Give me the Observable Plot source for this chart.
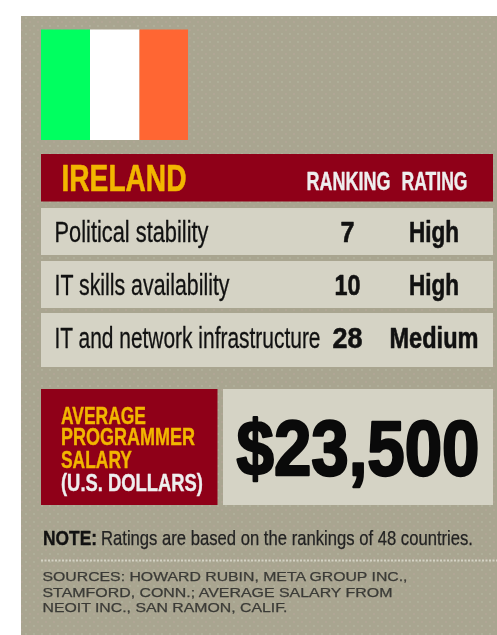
<!DOCTYPE html>
<html><head><meta charset="utf-8">
<script src="https://cdn.jsdelivr.net/npm/d3@7"></script>
<script src="https://cdn.jsdelivr.net/npm/@observablehq/plot@0.6"></script>
<style>
html,body{margin:0;padding:0;background:#fff;overflow:hidden}
svg{display:block;filter:blur(.4px)}
</style></head><body><div id="c"></div>
<script>
const country = "IRELAND";
const columnHeads = ["RANKING", "RATING"];
const categories = ["Political stability", "IT skills availability", "IT and network infrastructure"];
const rankings = [7, 10, 28];
const ratings = ["High", "High", "Medium"];
const salaryLabel = ["AVERAGE", "PROGRAMMER", "SALARY"];
const salaryUnit = "(U.S. DOLLARS)";
const salary = "$23,500";
const noteHead = "NOTE:";
const noteBody = "Ratings are based on the rankings of 48 countries.";
const sources = ["SOURCES: HOWARD RUBIN, META GROUP INC.,", "STAMFORD, CONN.; AVERAGE SALARY FROM", "NEOIT INC., SAN RAMON, CALIF."];
const flagColors = ["#00ff60", "#ffffff", "#ff6633"];

// Rendered widths of the condensed lettering (no condensed face is installed).
const textWidths = new Map([
  [country, 125], [columnHeads[0], 84], [columnHeads[1], 66],
  [categories[0], 154], [categories[1], 175], [categories[2], 266],
  ["7", 14], ["10", 26], ["28", 30], ["High", 50], ["Medium", 89],
  [salaryLabel[0], 85], [salaryLabel[1], 134], [salaryLabel[2], 71], [salaryUnit, 142],
  [salary, 243], [noteHead, 54], [noteBody, 372],
  [sources[0], 365], [sources[1], 350], [sources[2], 245]
]);

const W = 497, H = 635;
const sans = "'Liberation Sans',Arial,sans-serif";
const red = "#8f0018", yellow = "#f2b600", panel = "#a9a590", light = "#d5d3c5", ink = "#111";

const flagEdges = [41, 90, 139.5, 188];
const rowTops = [208, 261, 313], rowBottoms = [255, 308, 367], rowMid = [232, 285, 338];
const rows = categories.map((c, i) => ({c, rank: rankings[i], rating: ratings[i], y1: rowTops[i], y2: rowBottoms[i], y: rowMid[i]}));
const box = (x1, x2, y1, y2, fill) => ({x1, x2, y1, y2, fill});
const boxes = [
  box(21, W, 16, H, panel),
  box(21, W, 16, H, "url(#panel-dots)"),
  ...flagColors.map((f, i) => box(flagEdges[i], flagEdges[i + 1], 29.5, 140, f)),
  box(41, 493, 154, 201.5, red),
  ...rows.map(r => box(41, 493, r.y1, r.y2, light)),
  box(41, 217.5, 389, 505, red),
  box(223, 493, 389, 505, light)
];
const T = (text, x, y, o) => Plot.text([text], {text: d => d, x: () => x, y: () => y, lineAnchor: "middle", textAnchor: "start", fontFamily: sans, ...o});

const chart = Plot.plot({
  width: W, height: H, margin: 0,
  x: {domain: [0, W], range: [0, W], axis: null},
  y: {domain: [0, H], range: [0, H], axis: null},
  color: {type: "identity"},
  marks: [
    Plot.rect(boxes, {x1: "x1", x2: "x2", y1: "y1", y2: "y2", fill: d => d.fill}),
    T(country, 61, 179, {fontWeight: 700, fontSize: 37, fill: yellow, stroke: yellow, strokeWidth: .6}),
    T(columnHeads[0], 306, 181, {fontWeight: 700, fontSize: 25, fill: "#eee", stroke: "#eee", strokeWidth: .4}),
    T(columnHeads[1], 401, 181, {fontWeight: 700, fontSize: 25, fill: "#eee", stroke: "#eee", strokeWidth: .4}),
    Plot.text(rows, {x: () => 54, y: "y", text: "c", textAnchor: "start", lineAnchor: "middle", fontFamily: sans, fontSize: 29, fill: ink, stroke: ink, strokeWidth: .3}),
    Plot.text(rows, {x: () => 347, y: "y", text: d => String(d.rank), textAnchor: "middle", lineAnchor: "middle", fontFamily: sans, fontWeight: 700, fontSize: 29, fill: ink, stroke: ink, strokeWidth: .6}),
    Plot.text(rows, {x: () => 433.5, y: "y", text: "rating", textAnchor: "middle", lineAnchor: "middle", fontFamily: sans, fontWeight: 700, fontSize: 29, fill: ink, stroke: ink, strokeWidth: .6}),
    ...salaryLabel.map((s, i) => T(s, 60.5, [416, 437, 460][i], {fontWeight: 700, fontSize: 23.5, fill: yellow, stroke: yellow, strokeWidth: .4})),
    T(salaryUnit, 60.5, 482.5, {fontWeight: 700, fontSize: 23.5, fill: "#eee", stroke: "#eee", strokeWidth: .4}),
    T(salary, 236, 449.5, {fontWeight: 700, fontSize: 78, fill: "#0a0a0a", stroke: "#0a0a0a", strokeWidth: 2.4}),
    T(noteHead, 42.5, 538, {fontWeight: 700, fontSize: 21, fill: ink, stroke: ink, strokeWidth: .4}),
    T(noteBody, 100.5, 538, {fontSize: 21, fill: "#222", stroke: "#222", strokeWidth: .25}),
    Plot.ruleY([560], {x1: () => 41, x2: () => W, stroke: "#d5d3c5", strokeWidth: 2, strokeDasharray: "2 1.5"}),
    ...sources.map((s, i) => T(s, 42, [576, 592, 607.5][i], {fontSize: 12.5, fill: "#3a3a36", stroke: "#3a3a36", strokeWidth: .25}))
  ]
});
const pat = d3.select(chart).insert("defs", ":first-child").append("pattern")
  .attr("id", "panel-dots").attr("width", 8).attr("height", 8).attr("patternUnits", "userSpaceOnUse");
pat.append("circle").attr("cx", 2).attr("cy", 2).attr("r", .7).attr("fill", "#b9c0a8");
pat.append("circle").attr("cx", 6).attr("cy", 6).attr("r", .7).attr("fill", "#bba99c");
d3.select(chart).selectAll("text").each(function () {
  const w = textWidths.get(this.textContent);
  if (w) d3.select(this).attr("textLength", w).attr("lengthAdjust", "spacingAndGlyphs");
});
document.getElementById("c").append(chart);
</script></body></html>
